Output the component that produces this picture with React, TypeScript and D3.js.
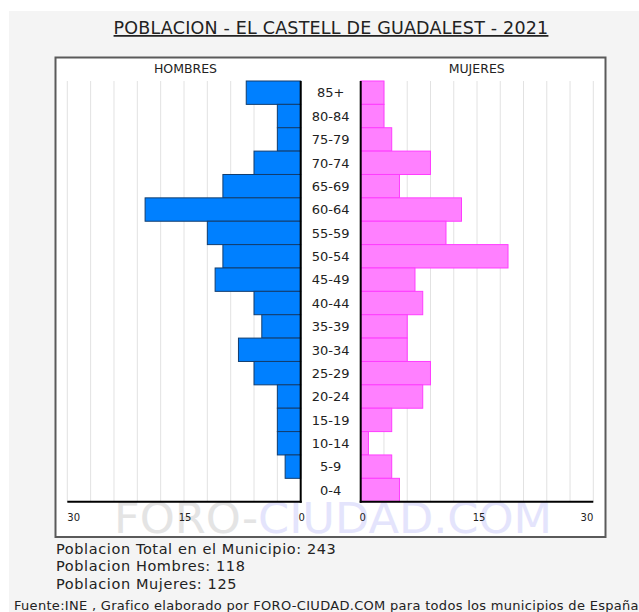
import React from "react";
import * as d3 from "d3";

const ageGroups = ["85+","80-84","75-79","70-74","65-69","60-64","55-59","50-54","45-49","40-44","35-39","30-34","25-29","20-24","15-19","10-14","5-9","0-4"];
const hombres = [7,3,3,6,10,20,12,10,11,6,5,8,6,3,3,3,2,0];
const mujeres = [3,3,4,9,5,13,11,19,7,8,6,6,9,8,4,1,4,5];
const tickValues = [30, 15, 0];
const gridValues = [3,6,9,12,15,18,21,24,27,30];
const title = "POBLACION - EL CASTELL DE GUADALEST - 2021";
const summaryLines = ["Poblacion Total en el Municipio: 243", "Poblacion Hombres: 118", "Poblacion Mujeres: 125"];
const footer = "Fuente:INE , Grafico elaborado por FORO-CIUDAD.COM para todos los municipios de España";

const FONT = "'DejaVu Sans', Verdana, sans-serif";

export default function App() {
  const W = 639, H = 612;
  const yTop = 81, yBot = 501.7;
  const xL = d3.scaleLinear().domain([0, 30]).range([300.7, 67.3]);
  const xR = d3.scaleLinear().domain([0, 30]).range([360.7, 593.3]);
  const y = d3.scaleBand<string>().domain(ageGroups).range([yTop, yBot]).padding(0);
  const bw = y.bandwidth();

  return (
    <svg width={W} height={H} style={{ position: "absolute", left: 0, top: 0 }} fontFamily={FONT}>
      <rect x={0} y={0} width={W} height={H} fill="#ffffff" />
      <rect x={9} y={11} width={W - 9} height={H - 11} fill="#f4f4f4" />
      <text x={331} y={34} textAnchor="middle" fontSize={17.5} letterSpacing={0.2} fill="#222" textDecoration="underline">{title}</text>
      {/* chart box */}
      <rect x={55.5} y={57.5} width={550} height={479.5} fill="#ffffff" stroke="#5a5a5a" strokeWidth={2} />
      {/* watermark */}
      <text x={114} y={533} fontSize={43} textLength={438} lengthAdjust="spacingAndGlyphs">
        <tspan fill="#e4e4e4">FORO-</tspan>
        <tspan fill="#e4e4fc">CIUDAD.COM</tspan>
      </text>
      <text x={185.5} y={72.5} textAnchor="middle" fontSize={12.5} fill="#222">HOMBRES</text>
      <text x={476.7} y={72.5} textAnchor="middle" fontSize={12.5} fill="#222">MUJERES</text>
      {/* grid */}
      {gridValues.map((v) => (
        <g key={"g" + v}>
          <line x1={xL(v)} x2={xL(v)} y1={yTop} y2={yBot} stroke="#e2e2e2" strokeWidth={1} />
          <line x1={xR(v)} x2={xR(v)} y1={yTop} y2={yBot} stroke="#e2e2e2" strokeWidth={1} />
        </g>
      ))}
      {/* bars */}
      {ageGroups.map((a, i) => (
        <g key={a}>
          {hombres[i] > 0 && (
            <rect x={xL(hombres[i])} y={y(a)!} width={xL(0) - xL(hombres[i])} height={bw}
              fill="#0080ff" stroke="#123d6e" strokeWidth={1} />
          )}
          {mujeres[i] > 0 && (
            <rect x={xR(0)} y={y(a)!} width={xR(mujeres[i]) - xR(0)} height={bw}
              fill="#ff80ff" stroke="#ff3cff" strokeWidth={1} />
          )}
          <text x={330.7} y={y(a)! + bw / 2 + 4.8} textAnchor="middle" fontSize={13} fill="#222">{a}</text>
        </g>
      ))}
      {/* axes */}
      <line x1={xL(0)} x2={xL(0)} y1={yTop} y2={yBot + 1} stroke="#000" strokeWidth={2} />
      <line x1={xR(0)} x2={xR(0)} y1={yTop} y2={yBot + 1} stroke="#000" strokeWidth={2} />
      <line x1={xL(30)} x2={xL(0) + 1} y1={yBot} y2={yBot} stroke="#000" strokeWidth={2} />
      <line x1={xR(0) - 1} x2={xR(30)} y1={yBot} y2={yBot} stroke="#000" strokeWidth={2} />
      {tickValues.map((v) => (
        <g key={"t" + v}>
          <text x={v === 30 ? xL(v) : xL(v) + 1} y={520.5} fontSize={10} fill="#222"
            textAnchor={v === 30 ? "start" : "middle"}>{v}</text>
          <text x={v === 30 ? xR(v) : xR(v) + 2} y={520.5} fontSize={10} fill="#222"
            textAnchor={v === 30 ? "end" : "middle"}>{v}</text>
        </g>
      ))}
      {summaryLines.map((s, i) => (
        <text key={s} x={56} y={553.5 + i * 17.5} fontSize={14.5} letterSpacing={0.6} fill="#222">{s}</text>
      ))}
      <text x={14} y={610} fontSize={13} letterSpacing={0.3} fill="#222">{footer}</text>
    </svg>
  );
}
